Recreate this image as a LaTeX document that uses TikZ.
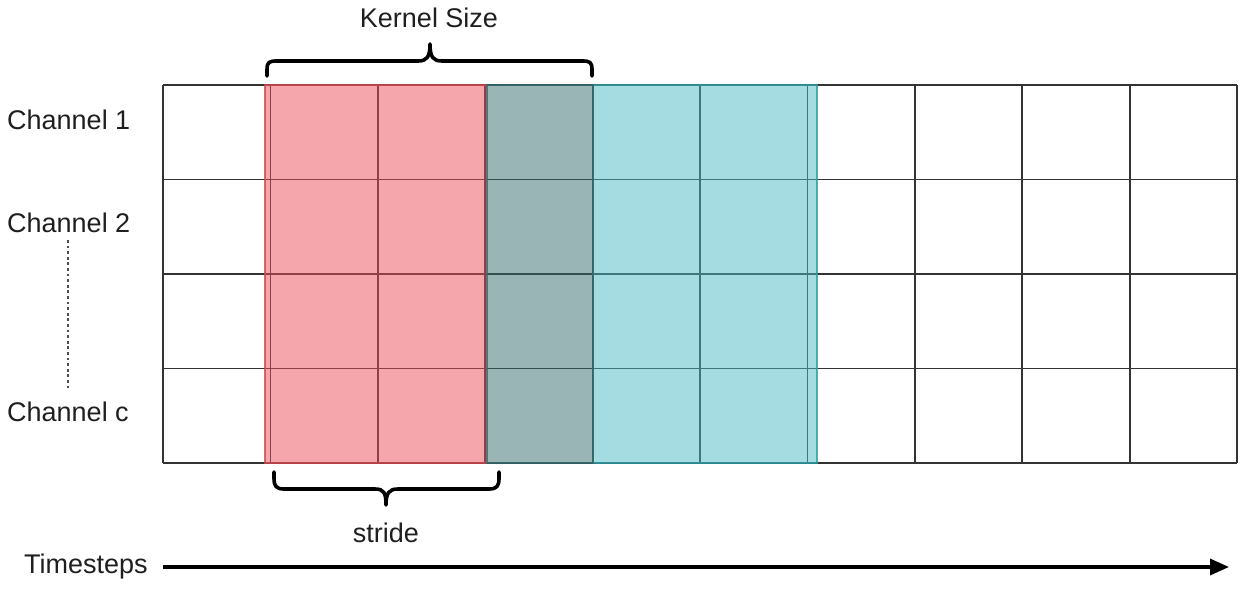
\documentclass[tikz,border=0pt]{standalone}
\usepackage{fontspec}
\setmainfont{Liberation Sans}
\usetikzlibrary{arrows.meta}
\definecolor{redbase}{HTML}{E94D59}
\definecolor{tealbase}{HTML}{4BB9C3}
\definecolor{graybase}{HTML}{356B6D}
\definecolor{gridc}{HTML}{333333}
\definecolor{rededge}{HTML}{D0454B}
\definecolor{tealedge}{HTML}{2E9AA2}
\tikzset{
  lbl/.style={font=\fontsize{27}{30}\selectfont, inner sep=0pt, text=black!88},
  gridline/.style={draw=gridc, line width=1.8pt},
  bracestyle/.style={draw=black, line width=3.6pt, line cap=round, line join=round},
}
\begin{document}
\begin{tikzpicture}[x={(1pt,0)}, y={(0,-1pt)}]
\useasboundingbox (0,0) rectangle (1250,589);
% grid
\foreach \i in {0,...,10} {
  \draw[gridline] (163+\i*107.4,85) -- (163+\i*107.4,463);
}
\foreach \j in {0,...,4} {
  \draw[gridline] (163,85+\j*94.5) -- (1237,85+\j*94.5);
}
% windows
\fill[redbase, opacity=0.5] (265,85) rectangle (487,463);
\fill[graybase, opacity=0.5] (487,85) rectangle (592.6,463);
\fill[tealbase, opacity=0.5] (592.6,85) rectangle (817,463);
\draw[rededge, line width=1.8pt, opacity=0.8] (487,85) -- (265,85) -- (265,463) -- (487,463);
\draw[tealedge, line width=1.8pt, opacity=0.8] (592.6,85) -- (817,85) -- (817,463) -- (592.6,463);
\draw[graybase, line width=1.8pt, opacity=0.8] (487,85) rectangle (592.6,463);
% braces
\coordinate (kl) at (267,76);
\coordinate (kr) at (592,76);
\coordinate (ktip) at (430,44);
\draw[bracestyle] (kl) -- (267,70) .. controls (267,62) and (269,61) .. (277,61)
  -- (418,61) .. controls (427,61) and (430,57) .. (ktip)
  .. controls (430,57) and (433,61) .. (442,61)
  -- (582,61) .. controls (590,61) and (592,62) .. (592,70) -- (kr);
\coordinate (sl) at (274,472);
\coordinate (sr) at (499,472);
\coordinate (stip) at (386,505);
\draw[bracestyle] (sl) -- (274,478) .. controls (274,486) and (276,489) .. (284,489)
  -- (375,489) .. controls (384,489) and (386,493) .. (stip)
  .. controls (386,493) and (389,489) .. (398,489)
  -- (489,489) .. controls (497,489) and (499,486) .. (499,478) -- (sr);
% labels
\node[lbl] (kernel) at (429,18) {Kernel Size};
\node[lbl] (stride) at (386,533) {stride};
\node[lbl, anchor=west] (ch1) at (7,120) {Channel 1};
\node[lbl, anchor=west] (ch2) at (7,223) {Channel 2};
\node[lbl, anchor=west] (chc) at (7,412) {Channel c};
\coordinate (dtop) at (68,240);
\coordinate (dbot) at (68,388);
\draw[black!70, line width=2.2pt, dash pattern=on 2.8pt off 2.8pt] (dtop) -- (dbot);
% timesteps
\node[lbl, anchor=west] (ts) at (24,567) {Timesteps};
\coordinate (astart) at (163,567);
\coordinate (aend) at (1229,567);
\draw[line width=3.4pt, -{Triangle[length=19pt,width=16pt]}] (astart) -- (aend);
\end{tikzpicture}
\end{document}
